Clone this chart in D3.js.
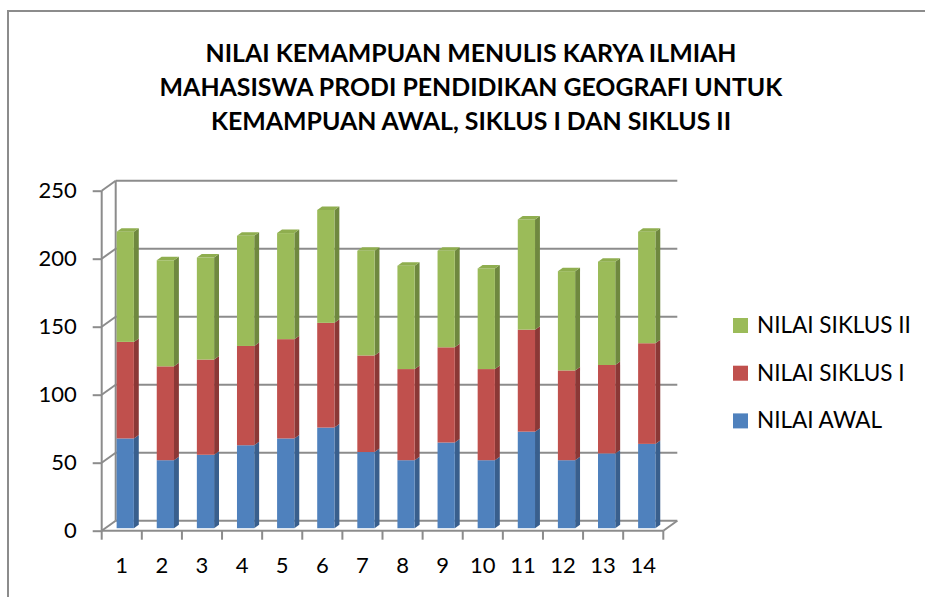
<!DOCTYPE html>
<html><head><meta charset="utf-8">
<script src="https://cdn.jsdelivr.net/npm/d3@7"></script>
<style>html,body{margin:0;padding:0;background:#fff;}svg{display:block;}</style>
</head><body>
<svg id="c" width="925" height="597"></svg>
<script>
const categories = ["1","2","3","4","5","6","7","8","9","10","11","12","13","14"];
const nilaiAwal   = [66,50,54,61,66,74,56,50,63,50,71,50,55,62];
const nilaiSiklus1= [71,69,70,73,73,77,71,67,70,67,75,66,65,74];
const nilaiSiklus2= [81,78,75,81,78,83,77,76,71,74,81,73,76,82];
const seriesNames = ["NILAI AWAL","NILAI SIKLUS I","NILAI SIKLUS II"];
const yTicks = [0,50,100,150,200,250];
const titleLines = ["NILAI KEMAMPUAN MENULIS KARYA ILMIAH","MAHASISWA PRODI PENDIDIKAN GEOGRAFI UNTUK","KEMAMPUAN AWAL, SIKLUS I DAN SIKLUS II"];

const colors = [
  {front:"#4f81bd", side:"#395f8d", top:"#6a95c8"},
  {front:"#c0504d", side:"#8b3836", top:"#cd6a67"},
  {front:"#9bbb59", side:"#6f883f", top:"#8fae4f"}
];

const svg = d3.select("#c");
const FONT = "Lato, 'Open Sans', sans-serif";
const grid = "#8c8c8c";

// outer border
svg.append("path").attr("d","M8,597 L8,11 L925,11").attr("fill","none").attr("stroke",grid).attr("stroke-width",2);

// scales
const x = d3.scaleBand().domain(categories).range([101.7,663.3]).padding(0);
const y = d3.scaleLinear().domain([0,250]).range([530.7,190.7]);
const DX = 14, DY = -10;
const x0 = x.range()[0], x1 = x.range()[1];

const g = svg.append("g");
// back wall gridlines
g.selectAll("line.grid").data(yTicks).join("line")
  .attr("x1",x0+DX).attr("x2",x1+DX)
  .attr("y1",d=>y(d)+DY).attr("y2",d=>y(d)+DY)
  .attr("stroke",grid).attr("stroke-width",2);
// side wall diagonals
g.selectAll("line.diag").data(yTicks).join("line")
  .attr("x1",x0).attr("x2",x0+DX)
  .attr("y1",d=>y(d)).attr("y2",d=>y(d)+DY)
  .attr("stroke",grid).attr("stroke-width",2);
// back left vertical
g.append("line").attr("x1",x0+DX).attr("x2",x0+DX).attr("y1",y(0)+DY).attr("y2",y(250)+DY)
  .attr("stroke",grid).attr("stroke-width",2);
// floor right diagonal
g.append("line").attr("x1",x1).attr("x2",x1+DX).attr("y1",y(0)).attr("y2",y(0)+DY)
  .attr("stroke",grid).attr("stroke-width",2);

// y axis
const yAxis = svg.append("g").attr("transform",`translate(${x0},0)`)
  .call(d3.axisLeft(y).tickValues(yTicks).tickSize(9).tickPadding(16));
yAxis.selectAll("path,line").attr("stroke",grid).attr("stroke-width",2);
yAxis.select(".domain").attr("d",`M-0,${y(250)}V${y(0)}`);
yAxis.selectAll("text").attr("font-family",FONT).attr("font-size",22).attr("fill","#000");

// x axis line + boundary ticks
svg.append("line").attr("x1",x0).attr("x2",x1).attr("y1",y(0)).attr("y2",y(0)).attr("stroke",grid).attr("stroke-width",2);
const bounds = d3.range(categories.length+1).map(i=>x0+i*x.step());
svg.selectAll("line.xt").data(bounds).join("line")
  .attr("x1",d=>d).attr("x2",d=>d).attr("y1",y(0)).attr("y2",y(0)+9)
  .attr("stroke",grid).attr("stroke-width",2);
svg.selectAll("text.xl").data(categories).join("text")
  .attr("x",d=>x(d)+x.bandwidth()/2).attr("y",573)
  .attr("text-anchor","middle").attr("font-family",FONT).attr("font-size",22).attr("fill","#000")
  .text(d=>d);

// bars
const stackData = categories.map((c,i)=>({cat:c, vals:[nilaiAwal[i],nilaiSiklus1[i],nilaiSiklus2[i]]}));
const F0 = 0.25, F1 = 0.6;
const bw = x.bandwidth()*0.43;
const bars = svg.append("g");
stackData.forEach(d=>{
  let base = 0;
  const cx = x(d.cat)+x.bandwidth()/2 + F0*DX;
  const xl = cx - bw/2, xr = cx + bw/2;
  const ox = (F1-F0)*DX, oy = (F1-F0)*DY;
  d.vals.forEach((v,si)=>{
    const top = base+v;
    const yb = y(base)+F0*DY, yt = y(top)+F0*DY;
    // side face
    bars.append("path")
      .attr("d",`M${xr},${yb} L${xr+ox},${yb+oy} L${xr+ox},${yt+oy} L${xr},${yt} Z`)
      .attr("fill",colors[si].side);
    // front face
    bars.append("rect").attr("x",xl).attr("y",yt).attr("width",bw).attr("height",yb-yt)
      .attr("fill",colors[si].front);
    if(si===d.vals.length-1){
      bars.append("path")
        .attr("d",`M${xl},${yt} L${xl+ox},${yt+oy} L${xr+ox},${yt+oy} L${xr},${yt} Z`)
        .attr("fill",colors[si].top);
    }
    base = top;
  });
});

// title
const titleTargets = [543,623,539];
const tg = svg.append("g");
titleLines.forEach((t,i)=>{
  const tx = tg.append("text").attr("x",471).attr("y",62+i*34)
    .attr("text-anchor","middle").attr("font-family",FONT).attr("font-weight","bold")
    .attr("font-size",25).attr("fill","#000").text(t);
});
// fit title size to line 2 width
{
  const nodes = tg.selectAll("text").nodes();
  const w = nodes[1].getComputedTextLength();
  const fs = 25*titleTargets[1]/w;
  tg.selectAll("text").attr("font-size",fs);
}

// legend
const legendOrder = [2,1,0];
const lg = svg.append("g");
legendOrder.forEach((si,k)=>{
  const by = 333 + k*47.7;
  lg.append("rect").attr("x",733).attr("y",by-15).attr("width",15).attr("height",15).attr("fill",colors[si].front);
  lg.append("text").attr("x",757).attr("y",by).attr("font-family",FONT).attr("font-size",21).attr("fill","#000").text(seriesNames[si]);
});
{
  const n = lg.selectAll("text").nodes()[0];
  const w = n.getComputedTextLength();
  lg.selectAll("text").attr("font-size",21*154/w);
}
</script>
</body></html>
